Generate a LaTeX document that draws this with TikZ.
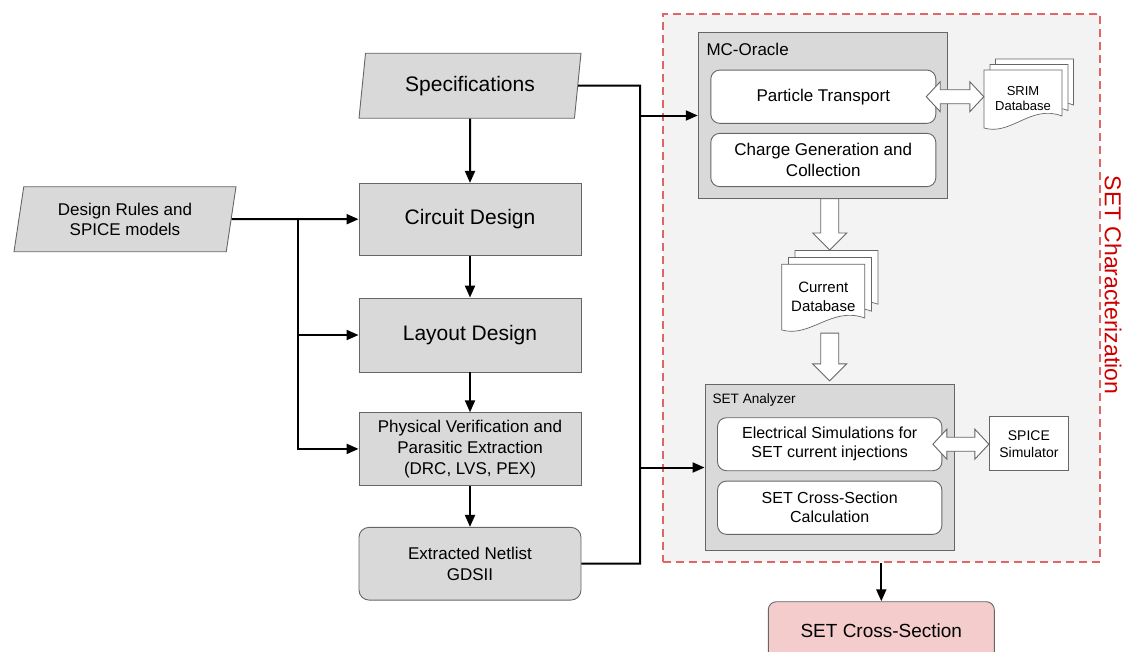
\documentclass[tikz,border=0pt]{standalone}
\usepackage{fontspec}
\setmainfont{Liberation Sans}
\usetikzlibrary{shapes.geometric,arrows.meta,calc}

\definecolor{boxfill}{HTML}{D9D9D9}
\definecolor{boxline}{HTML}{666666}
\definecolor{zonefill}{HTML}{F3F3F3}
\definecolor{zoneline}{HTML}{E06666}
\definecolor{zonetext}{HTML}{CC0000}
\definecolor{resfill}{HTML}{F4CCCC}

%% hollow arrow pointing down, from #1 to #2 (x of #1 is kept)
\newcommand{\fatdown}[2]{%
  \draw[fatarrow] let \p1=(#1), \p2=(#2) in
    (\x1-9pt,\y1) -- (\x1-9pt,\y2+17pt) -- (\x1-17pt,\y2+17pt) -- (\x1,\y2)
    -- (\x1+17pt,\y2+17pt) -- (\x1+9pt,\y2+17pt) -- (\x1+9pt,\y1) -- cycle;}
%% hollow arrow with two heads, left #1 to right #2
\newcommand{\fatboth}[2]{%
  \draw[fatarrow] let \p1=(#1), \p2=(#2) in
    (\x1,\y1) -- (\x1+14pt,\y1+15pt) -- (\x1+14pt,\y1+7pt) -- (\x2-14pt,\y1+7pt)
    -- (\x2-14pt,\y1+15pt) -- (\x2,\y1) -- (\x2-14pt,\y1-15pt) -- (\x2-14pt,\y1-7pt)
    -- (\x1+14pt,\y1-7pt) -- (\x1+14pt,\y1-15pt) -- cycle;}
%% one sheet of a document stack: top left corner, width, height
\newcommand{\docpage}[4]{%
  \draw[docpage] (#1,#2) -- ({#1+#3},#2) -- ({#1+#3},{#2+#4-12})
    .. controls ({#1+0.6*#3},{#2+#4-24}) and ({#1+0.35*#3},{#2+#4+8}) .. (#1,{#2+#4}) -- cycle;}

\begin{document}
\begin{tikzpicture}[x=1pt, y=-1pt,
    box/.style={draw=boxline, fill=boxfill, line width=0.9pt, align=center,
      font=\fontsize{21}{25}\selectfont},
    io/.style={box, trapezium, trapezium left angle=76, trapezium right angle=104,
      trapezium stretches body, minimum width=222pt, minimum height=65pt},
    inner/.style={draw=boxline, fill=white, line width=0.9pt, rounded corners=9pt,
      align=center, font=\fontsize{17}{21}\selectfont},
    doctext/.style={align=center, inner sep=0pt},
    docpage/.style={draw=boxline, fill=white, line width=0.7pt},
    fatarrow/.style={draw=boxline, fill=white, line width=0.9pt},
    flow/.style={-{Triangle[length=12pt,width=10pt]}, line width=2pt},
    wire/.style={line width=2pt}]
  \useasboundingbox (0,0) rectangle (1126,651);

  %% SET characterization zone
  \node[draw=zoneline, fill=zonefill, line width=2pt, dash pattern=on 8pt off 5pt,
    minimum width=437pt, minimum height=548pt, inner sep=0pt] (zone) at (881.5,288.3) {};
  \node[rotate=-90, text=zonetext, font=\fontsize{23}{27}\selectfont] (zonelabel) at (1113,285) {SET Characterization};

  %% design flow on the left
  \node[io] (spec) at (470,85.7) {Specifications};
  \node[io, font=\fontsize{17}{20}\selectfont] (rules) at (125,219.2) {Design Rules and\\SPICE models};
  \node[box, minimum width=222pt, minimum height=71.7pt] (circ) at (470,219.2) {Circuit Design};
  \node[box, minimum width=222pt, minimum height=74pt] (lay) at (470,335) {Layout Design};
  \node[box, minimum width=222pt, minimum height=72.3pt, font=\fontsize{17}{21}\selectfont] (pv) at (470,448.9)
    {Physical Verification and\\Parasitic Extraction\\(DRC, LVS, PEX)};
  \node[box, rounded corners=10pt, minimum width=222pt, minimum height=72.7pt, font=\fontsize{17}{21}\selectfont] (net) at (470,563.7)
    {Extracted Netlist\\GDSII};

  %% MC-Oracle
  \node[box, minimum width=249.4pt, minimum height=165.6pt] (mco) at (822.9,115.5) {};
  \node[anchor=west, font=\fontsize{17}{20}\selectfont] (mcolabel) at (703,49.3) {MC-Oracle};
  \node[inner, minimum width=225pt, minimum height=53.3pt] (pt) at (823.3,96.7) {Particle Transport};
  \node[inner, minimum width=225pt, minimum height=53.3pt] (cg) at (823.3,160) {Charge Generation and\\Collection};

  %% SRIM database
  \docpage{995.5}{59}{78}{58}
  \docpage{990}{64.5}{78}{58}
  \docpage{984}{70}{78}{58}
  \node[doctext, minimum width=78pt, minimum height=58pt, font=\fontsize{13}{15}\selectfont] (srim) at (1023,99) {SRIM\\Database};

  %% current database
  \docpage{795}{250.5}{83}{65.7}
  \docpage{788.4}{257.4}{83}{65.7}
  \docpage{781.8}{264.3}{83}{65.7}
  \node[doctext, minimum width=83pt, minimum height=65.7pt, font=\fontsize{15}{19}\selectfont] (curdb) at (823.3,297) {Current\\Database};

  %% SET analyzer
  \node[box, minimum width=249.4pt, minimum height=166.4pt] (sa) at (829.7,467.5) {};
  \node[anchor=west, font=\fontsize{13.6}{16}\selectfont] (salabel) at (709,400) {SET Analyzer};
  \node[inner, minimum width=224.4pt, minimum height=53pt, font=\fontsize{16}{19}\selectfont] (elec) at (829.7,444.2)
    {Electrical Simulations for\\SET current injections};
  \node[inner, minimum width=224.4pt, minimum height=53.3pt, font=\fontsize{16}{19}\selectfont] (calc) at (829.7,507.7)
    {SET Cross-Section\\Calculation};
  \node[draw=boxline, fill=white, line width=0.9pt, minimum width=79.2pt, minimum height=54pt, align=center,
    font=\fontsize{14}{17}\selectfont] (spice) at (1028.9,443.7) {SPICE\\Simulator};

  %% result
  \node[box, fill=resfill, rounded corners=8pt, minimum width=226pt, minimum height=58pt,
    font=\fontsize{19}{23}\selectfont] (res) at (881.3,630.7) {SET Cross-Section};

  %% connectors on the left
  \draw[flow] (spec.south) -- (circ.north);
  \draw[flow] (circ.south) -- (lay.north);
  \draw[flow] (lay.south) -- (pv.north);
  \draw[flow] (pv.south) -- (net.north);
  \coordinate (split) at (298,219.2);
  \draw[flow] (rules.east) -- (circ.west);
  \draw[flow] (split) |- (lay.west);
  \draw[flow] (split) |- (pv.west);

  %% bus into the zone
  \coordinate (bus) at (640,85.7);
  \draw[wire] (spec.east) -- (bus) |- (net.east);
  \draw[flow] (bus |- mco.west) -- (mco.west);
  \draw[flow] (bus |- sa.west) -- (sa.west);
  \draw[flow] (zone.south -| res.north) -- (res.north);

  %% hollow arrows
  \fatboth{[xshift=-10pt]pt.east}{srim.west}
  \fatboth{[xshift=-9.5pt]elec.east}{spice.west}
  \fatdown{mco.south -| sa.north}{$(curdb.north -| sa.north)+(0,-14)$}
  \fatdown{$(curdb.south -| sa.north)+(0,3)$}{$(sa.north)+(0,-3)$}
\end{tikzpicture}
\end{document}
